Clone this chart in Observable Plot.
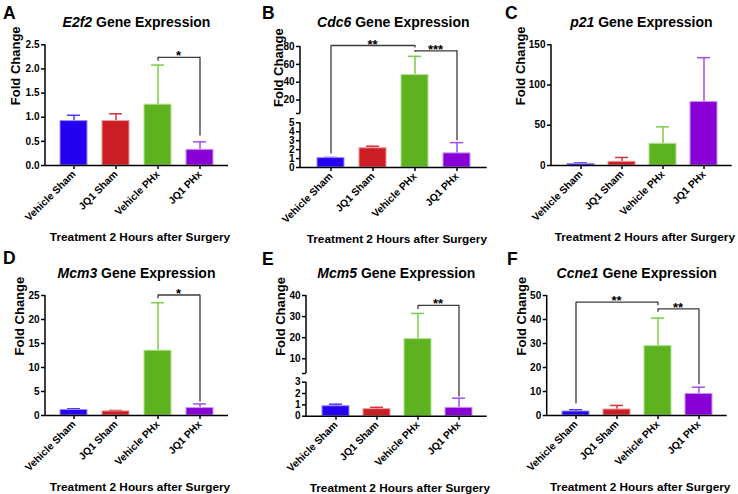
<!DOCTYPE html>
<html>
<head>
<meta charset="utf-8">
<script src="https://cdn.jsdelivr.net/npm/d3@7"></script>
<script src="https://cdn.jsdelivr.net/npm/@observablehq/plot@0.6"></script>
<style>
  body { margin: 0; background: #fff; }
  #wrap { position: relative; width: 738px; height: 494px; font-family: "Liberation Sans", Arial, sans-serif; overflow: hidden; }
  .panel { position: absolute; }
  #overlay { position: absolute; left: 0; top: 0; pointer-events: none; }
</style>
</head>
<body>
<div id="wrap"></div>
<script>
// ---------- data ----------
const groups = ["Vehicle Sham", "JQ1 Sham", "Vehicle PHx", "JQ1 PHx"];
const fillColors = ["#2400f0", "#cc1c24", "#5db220", "#8800d6"];
const edgeColors = ["#9c8cff", "#eb9a9a", "#b5e08f", "#c79af0"];
const errColors = ["#4a36f2", "#d4343a", "#7ccc4c", "#a24fe2"];

const e2f2Mean = [0.92, 0.92, 1.26, 0.325];
const e2f2Top = [1.04, 1.07, 2.08, 0.49];
const e2f2Ticks = [0, 0.5, 1.0, 1.5, 2.0, 2.5];
const e2f2Brackets = [
  {from: "Vehicle PHx", to: "JQ1 PHx", y: 2.24, dropFrom: 2.16, dropTo: 0.61, label: "*"}
];

const cdc6Mean = [1.05, 2.15, 48, 1.58];
const cdc6Top = [1.12, 2.38, 69, 2.78];
const cdc6Ticks = [0, 1, 2, 3, 4, 5, 20, 40, 60, 80];
const cdc6Brackets = [
  {from: "Vehicle Sham", to: "Vehicle PHx", y: 81.1, dropFrom: 1.5, dropTo: 78.4, label: "**"},
  {from: "Vehicle PHx", to: "JQ1 PHx", y: 75.2, dropFrom: 73.5, dropTo: 3.0, label: "***"}
];

const p21Mean = [1.9, 4.6, 27, 79];
const p21Top = [3.2, 10, 48, 134];
const p21Ticks = [0, 50, 100, 150];
const p21Brackets = [];

const mcm3Mean = [1.15, 0.85, 13.5, 1.55];
const mcm3Top = [1.4, 1.05, 23.5, 2.4];
const mcm3Ticks = [0, 5, 10, 15, 20, 25];
const mcm3Brackets = [
  {from: "Vehicle PHx", to: "JQ1 PHx", y: 25.1, dropFrom: 24.3, dropTo: 2.8, label: "*"}
];

const mcm5Mean = [0.88, 0.62, 19.3, 0.74];
const mcm5Top = [1.06, 0.78, 31.5, 1.59];
const mcm5Ticks = [0, 1, 2, 3, 10, 20, 30, 40];
const mcm5Brackets = [
  {from: "Vehicle PHx", to: "JQ1 PHx", y: 35.3, dropFrom: 33.4, dropTo: 1.7, label: "**"}
];

const ccne1Mean = [1.67, 2.5, 28.9, 9.0];
const ccne1Top = [2.4, 4.2, 40.6, 11.8];
const ccne1Ticks = [0, 10, 20, 30, 40, 50];
const ccne1Brackets = [
  {from: "Vehicle Sham", to: "Vehicle PHx", y: 47.2, dropFrom: 4.9, dropTo: 45.8, label: "**"},
  {from: "Vehicle PHx", to: "JQ1 PHx", y: 44.4, dropFrom: 43, dropTo: 12.8, label: "**"}
];

const yLabel = "Fold Change";
const xLabel = "Treatment 2 Hours after Surgery";

// ---------- layout ----------
// brk: axis break (value where the lower segment ends, gap size in lower units, upper/lower unit ratio)
const panels = [
  {letter: "A", gene: "E2f2", mean: e2f2Mean, top: e2f2Top, ticks: e2f2Ticks, fmt: d3.format(".1f"), brackets: e2f2Brackets,
   L: {left: 0, top: 0, width: 240, height: 245, ml: 45, mr: 12, mt: 44.3, mb: 80, ylabDx: -25.5, letterX: 3, letterY: 18.5, titleY: 27.3}},
  {letter: "B", gene: "Cdc6", mean: cdc6Mean, top: cdc6Top, ticks: cdc6Ticks, brackets: cdc6Brackets,
   brk: {at: 5, gap: 1.04, k: 0.0999},
   L: {left: 245, top: 0, width: 247, height: 245, ml: 55, mr: 5.3, mt: 46, mb: 78, ylabDx: -17.5, letterX: 262, letterY: 18.5, titleY: 27.3}},
  {letter: "C", gene: "p21", mean: p21Mean, top: p21Top, ticks: p21Ticks, brackets: p21Brackets,
   L: {left: 490, top: 0, width: 248, height: 245, ml: 61, mr: 6.3, mt: 44.3, mb: 80, ylabDx: -26.5, letterX: 505, letterY: 18.5, titleY: 27.3}},
  {letter: "D", gene: "Mcm3", mean: mcm3Mean, top: mcm3Top, ticks: mcm3Ticks, brackets: mcm3Brackets,
   L: {left: 0, top: 245, width: 240, height: 249, ml: 45, mr: 12, mt: 50, mb: 79, ylabDx: -22, letterX: 3, letterY: 263.5, titleY: 277.5}},
  {letter: "E", gene: "Mcm5", mean: mcm5Mean, top: mcm5Top, ticks: mcm5Ticks, brackets: mcm5Brackets,
   brk: {at: 3, gap: 0.768, k: 0.186},
   L: {left: 245, top: 245, width: 247, height: 249, ml: 61, mr: 5.3, mt: 50, mb: 78.3, ylabDx: -21.3, letterX: 262, letterY: 265, titleY: 277.5}},
  {letter: "F", gene: "Ccne1", mean: ccne1Mean, top: ccne1Top, ticks: ccne1Ticks, brackets: ccne1Brackets,
   L: {left: 490, top: 245, width: 248, height: 249, ml: 56.7, mr: 11.3, mt: 50, mb: 79, ylabDx: -21.4, letterX: 507, letterY: 264.5, titleY: 277.5}}
];

const FONT = '"Liberation Sans", Arial, sans-serif';
const wrap = document.getElementById("wrap");

function makePanel(p) {
  const L = p.L;
  const b = p.brk;
  // axis-break mapping (identity when the axis is continuous)
  const tf = b ? (v => (v <= b.at ? v : b.at + b.gap + (v - b.at) * b.k)) : (v => v);
  const fmt = p.fmt || (d => String(d));
  const maxTick = p.ticks[p.ticks.length - 1];
  const labelMap = new Map(p.ticks.map(t => [tf(t), fmt(t)]));
  const tickVals = p.ticks.map(tf);
  let segments;
  if (b) {
    tickVals.push(b.at + b.gap);
    segments = [[0, b.at], [b.at + b.gap, tf(maxTick)]];
  } else {
    segments = [[0, maxTick]];
  }

  const rows = groups.map((g, i) => ({group: g, mean: tf(p.mean[i]), top: tf(p.top[i])}));
  const brackets = p.brackets.map(d => ({...d, y: tf(d.y), dropFrom: tf(d.dropFrom), dropTo: tf(d.dropTo)}));

  const marks = [];
  rows.forEach((d, i) => {
    marks.push(Plot.ruleX([d], {x: "group", y1: "mean", y2: "top", stroke: errColors[i], strokeWidth: 1.5}));
    marks.push(Plot.tickY([d], {x: "group", y: "top", stroke: errColors[i], strokeWidth: 1.5, insetLeft: 7, insetRight: 7}));
    marks.push(Plot.barY([d], {x: "group", y: "mean", fill: fillColors[i], stroke: edgeColors[i], strokeWidth: 1}));
  });

  if (brackets.length) {
    const bs = {stroke: "#3a3a3a", strokeWidth: 1.3};
    marks.push(Plot.link(brackets, {x1: "from", x2: "to", y1: "y", y2: "y", ...bs}));
    marks.push(Plot.ruleX(brackets, {x: "from", y1: "y", y2: "dropFrom", ...bs}));
    marks.push(Plot.ruleX(brackets, {x: "to", y1: "y", y2: "dropTo", ...bs}));
    marks.push((index, scales) => {
      const g = d3.create("svg:g");
      const half = scales.x.bandwidth ? scales.x.bandwidth() / 2 : 0;
      for (const br of brackets) {
        g.append("text")
          .attr("x", (scales.x(br.from) + scales.x(br.to)) / 2 + half)
          .attr("y", scales.y(br.y) + 3.5)
          .attr("text-anchor", "middle")
          .attr("font-size", 13)
          .attr("font-weight", "bold")
          .attr("fill", "#000")
          .text(br.label);
      }
      return g.node();
    });
  }

  marks.push(Plot.ruleY([0], {stroke: "#000", strokeWidth: 1.5}));
  // y axis line (in segments for broken axes)
  marks.push((index, scales, values, dims) => {
    const g = d3.create("svg:g");
    for (const [a, c] of segments) {
      g.append("line")
        .attr("x1", dims.marginLeft).attr("x2", dims.marginLeft)
        .attr("y1", scales.y(a) + (a === 0 ? 0.75 : 0)).attr("y2", scales.y(c))
        .attr("stroke", "#000").attr("stroke-width", 1.5);
    }
    return g.node();
  });
  marks.push(Plot.axisY({ticks: tickVals, tickFormat: d => labelMap.get(d) ?? "", tickSize: 4, tickPadding: 2, strokeWidth: 1.5, label: null}));
  marks.push(Plot.axisX({tickSize: 4, tickRotate: -45, tickPadding: 3, strokeWidth: 1.5, label: null, fontSize: 10.3}));
  marks.push(Plot.text([yLabel], {text: d => d, frameAnchor: "left", rotate: -90, dx: L.ylabDx, lineAnchor: "bottom", fontSize: 13, fontWeight: "bold"}));
  marks.push(Plot.text([xLabel], {text: d => d, frameAnchor: "bottom", dx: 3, dy: 75.5, lineAnchor: "bottom", fontSize: 11.8, fontWeight: "bold"}));

  const svg = Plot.plot({
    width: L.width, height: L.height,
    marginLeft: L.ml, marginRight: L.mr, marginTop: L.mt, marginBottom: L.mb,
    style: {fontFamily: FONT, fontSize: "10px", fontWeight: "bold", background: "transparent", overflow: "visible", color: "#000"},
    x: {domain: groups, padding: 0.35, label: null},
    y: {domain: [0, tf(maxTick)], label: null},
    marks
  });
  const div = document.createElement("div");
  div.className = "panel";
  div.style.left = L.left + "px";
  div.style.top = L.top + "px";
  div.appendChild(svg);
  wrap.appendChild(div);
}

panels.forEach(makePanel);

// letters and titles
const ov = d3.select(wrap).append("svg").attr("id", "overlay").attr("width", 738).attr("height", 494)
  .style("font-family", FONT);
for (const p of panels) {
  const L = p.L;
  ov.append("text").attr("x", L.letterX).attr("y", L.letterY)
    .attr("font-size", 17.5).attr("font-weight", "bold").attr("fill", "#000").text(p.letter);
  const cx = L.left + (L.ml + L.width - L.mr) / 2;
  const t = ov.append("text").attr("x", cx).attr("y", L.titleY).attr("text-anchor", "middle")
    .attr("font-size", 14).attr("font-weight", "bold").attr("fill", "#000");
  t.append("tspan").attr("font-style", "italic").text(p.gene);
  t.append("tspan").text(" Gene Expression");
}
</script>
</body>
</html>
